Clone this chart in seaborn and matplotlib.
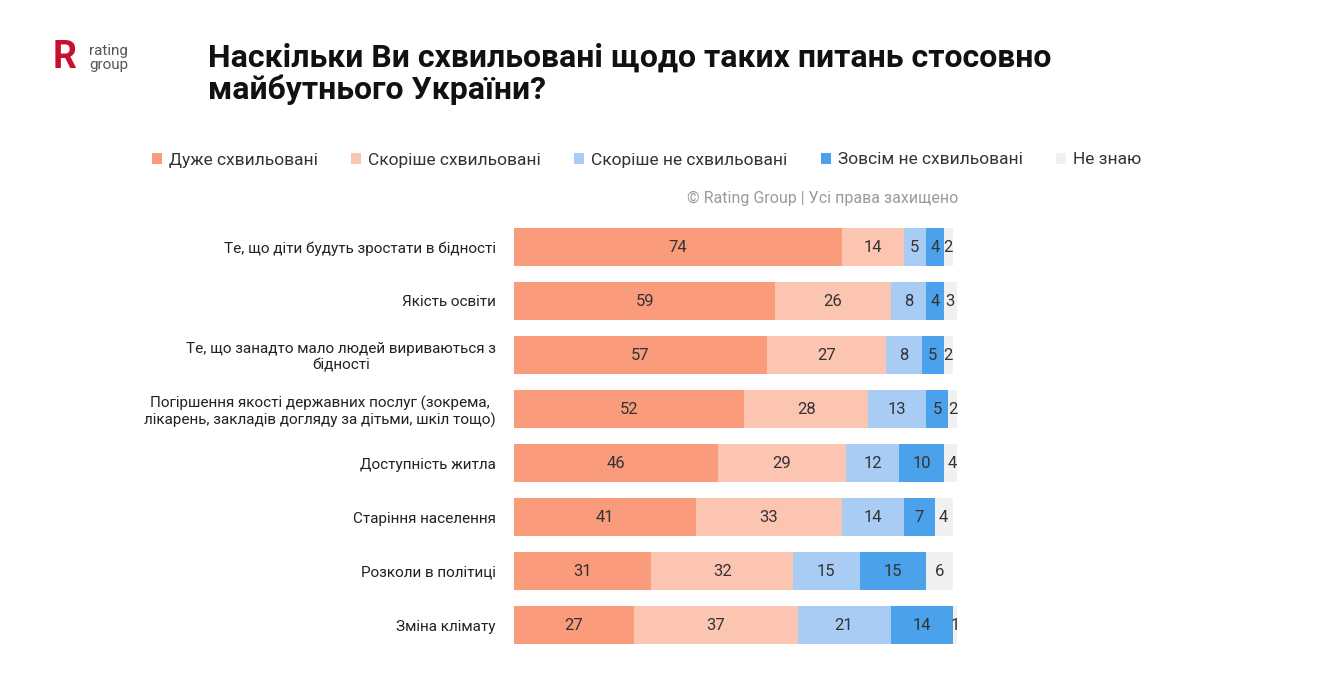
import numpy as np
import pandas as pd
import seaborn as sns
import matplotlib.pyplot as plt
from matplotlib.patches import Patch

categories = [
    'Те, що діти будуть зростати в бідності',
    'Якість освіти',
    'Те, що занадто мало людей вириваються з\nбідності',
    'Погіршення якості державних послуг (зокрема,\nлікарень, закладів догляду за дітьми, шкіл тощо)',
    'Доступність житла',
    'Старіння населення',
    'Розколи в політиці',
    'Зміна клімату',
]
series = ['Дуже схвильовані', 'Скоріше схвильовані', 'Скоріше не схвильовані',
          'Зовсім не схвильовані', 'Не знаю']
very = [74, 59, 57, 52, 46, 41, 31, 27]
rather = [14, 26, 27, 28, 29, 33, 32, 37]
rather_not = [5, 8, 8, 13, 12, 14, 15, 21]
not_at_all = [4, 4, 5, 5, 10, 7, 15, 14]
dont_know = [2, 3, 2, 2, 4, 4, 6, 1]
colors = ['#FA9C7C', '#FCC5B1', '#A9CCF5', '#4CA2EA', '#F0F0F0']

values = [very, rather, rather_not, not_at_all, dont_know]

sns.set_theme(style='white')
plt.rcParams['font.family'] = ['Roboto', 'DejaVu Sans']

fig = plt.figure(figsize=(13.39, 6.75), dpi=100)
ax = fig.add_axes([514 / 1339, 23 / 675, 443 / 1339, 432 / 675])

# cumulative sums, drawn from the largest so earlier segments sit on top
cum = np.cumsum(np.array(values), axis=0)
for i in range(len(series) - 1, -1, -1):
    df = pd.DataFrame({'cat': categories, 'val': cum[i]})
    sns.barplot(data=df, x='val', y='cat', orient='h', color=colors[i],
                saturation=1, width=0.7, ax=ax, edgecolor='none')

for i in range(len(series)):
    left = cum[i] - np.array(values[i])
    for j, v in enumerate(values[i]):
        ax.text(left[j] + v / 2, j, str(v), ha='center', va='center',
                fontsize=12, color='#333333')

ax.set_xlim(0, 100)
ax.set_ylim(7.5, -0.5)
ax.set_xlabel('')
ax.set_ylabel('')
ax.set_xticks([])
ax.tick_params(axis='y', length=0, pad=13)
for lab in ax.get_yticklabels():
    lab.set_fontsize(11)
    lab.set_color('#222222')
    lab.set_multialignment('center')
sns.despine(ax=ax, left=True, bottom=True)

# legend
handles = [Patch(facecolor=c, edgecolor='none') for c in colors]
fig.legend(handles, series, loc='center left', bbox_to_anchor=(136 / 1339, 1 - 160 / 675),
           ncol=5, frameon=False, fontsize=12.5, handlelength=0.6, handleheight=0.6,
           handletextpad=0.4, columnspacing=1.9, labelcolor='#333333')

fig.text(958 / 1339, 1 - 198 / 675, '© Rating Group | Усі права захищено',
         ha='right', va='center', fontsize=11.5, color='#9a9a9a')

# title
fig.text(208 / 1339, 1 - 74 / 675,
         'Наскільки Ви схвильовані щодо таких питань стосовно\nмайбутнього України?',
         ha='left', va='center', fontsize=23, fontweight='bold', color='#111111',
         linespacing=1.1)

# logo
fig.text(53 / 1339, 1 - 58 / 675, 'R', ha='left', va='center', fontsize=27,
         fontweight='bold', color='#C8102E')
fig.text(89 / 1339, 1 - 58 / 675, 'rating\ngroup', ha='left', va='center',
         fontsize=11, color='#555555', linespacing=0.95, multialignment='left')

fig.savefig('out.png', dpi=100, facecolor='white')
